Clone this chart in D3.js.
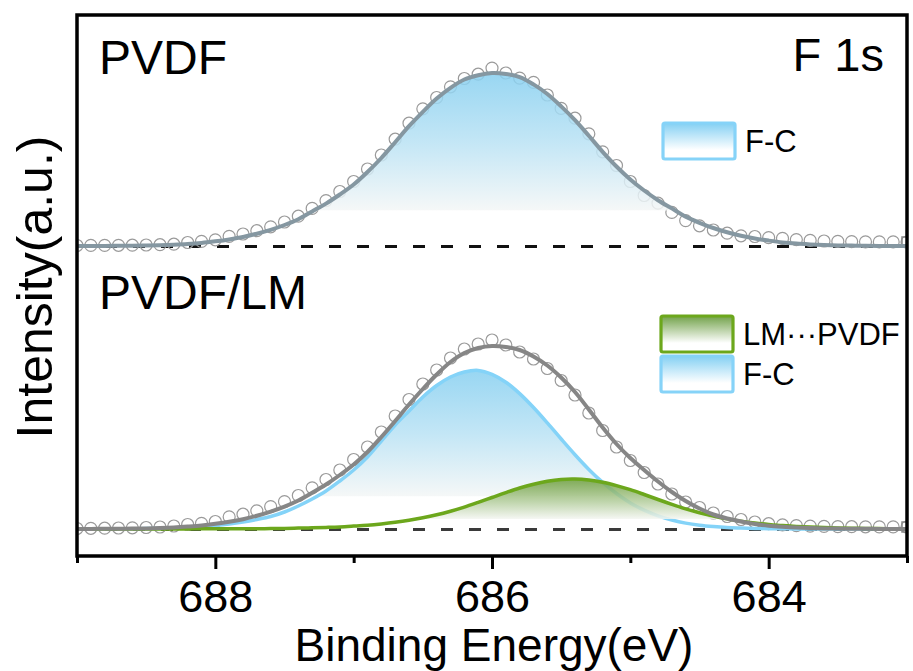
<!DOCTYPE html>
<html>
<head>
<meta charset="utf-8">
<script src="https://cdn.jsdelivr.net/npm/d3@7"></script>
<style>
  body { margin: 0; background: #fff; }
  text { font-family: "Liberation Sans", Arial, sans-serif; fill: #000; }
</style>
</head>
<body>
<div id="chart"></div>
<script>
// binding energy grid (eV), high -> low
const energy = [
  689.0, 688.9, 688.8, 688.7, 688.6, 688.5, 688.4, 688.3, 688.2, 688.1,
  688.0, 687.9, 687.8, 687.7, 687.6, 687.5, 687.4, 687.3, 687.2, 687.1,
  687.0, 686.9, 686.8, 686.7, 686.6, 686.5, 686.4, 686.3, 686.2, 686.1,
  686.0, 685.9, 685.8, 685.7, 685.6, 685.5, 685.4, 685.3, 685.2, 685.1,
  685.0, 684.9, 684.8, 684.7, 684.6, 684.5, 684.4, 684.3, 684.2, 684.1,
  684.0, 683.9, 683.8, 683.7, 683.6, 683.5, 683.4, 683.3, 683.2, 683.1,
  683.0]

// PVDF panel
const pvdfRaw = [
  0.5, 0.6, 0.6, 0.7, 0.8, 1.0, 1.3, 1.8, 3.5, 4.6,
  6.2, 9.6, 12.0, 15.3, 19.2, 24.0, 29.8, 37.6, 45.4, 54.5,
  64.5, 77.0, 91.0, 106.8, 122.8, 137.2, 148.5, 159.2, 167.5, 171.8,
  177.9, 173.0, 167.9, 163.6, 151.0, 137.6, 127.8, 112.2, 94.2, 80.5,
  64.5, 50.5, 42.8, 33.6, 25.4, 20.2, 16.0, 12.8, 10.2, 9.5,
  8.4, 7.6, 6.4, 5.6, 5.0, 4.6, 4.4, 4.2, 4.1, 4.1,
  4.0]
const pvdfFC = [
  0, 0.1, 0.1, 0.2, 0.3, 0.5, 0.8, 1.3, 2.0, 3.1,
  4.7, 6.6, 9.0, 12.3, 16.2, 21.0, 26.8, 34.6, 42.4, 51.5,
  61.5, 74.0, 88.0, 103.8, 119.8, 134.2, 147.5, 158.2, 166.5, 170.8,
  172.9, 172.0, 168.9, 161.6, 152.0, 139.6, 125.8, 110.2, 94.2, 79.5,
  66.5, 55.5, 45.8, 37.6, 29.4, 23.2, 18.0, 13.8, 10.2, 7.5,
  5.4, 3.6, 2.4, 1.6, 1.0, 0.6, 0.4, 0.2, 0.1, 0.1,
  0]

// PVDF/LM panel
const lmRaw = [
  0.5, 0.7, 0.8, 1.0, 1.2, 1.5, 2.0, 3.0, 4.5, 5.6,
  7.5, 12.2, 14.8, 18.2, 22.4, 27.4, 33.5, 41.2, 49.5, 59.0,
  69.5, 82.0, 97.0, 113.0, 129.5, 145.0, 159.0, 171.0, 180.0, 185.0,
  189.0, 184.0, 177.0, 170.0, 160.5, 148.5, 134.0, 116.0, 98.5, 82.0,
  68.5, 56.5, 45.0, 35.0, 27.0, 21.5, 16.0, 12.5, 9.5, 7.0,
  5.3, 4.2, 3.4, 2.9, 2.6, 2.4, 2.3, 2.2, 2.1, 2.1,
  2.0]
const lmEnvelope = [
  0, 0.1, 0.2, 0.3, 0.4, 0.6, 1.0, 1.6, 2.5, 3.6,
  5.2, 7.2, 9.8, 13.2, 17.4, 22.4, 28.5, 36.2, 44.5, 54.0,
  64.5, 77.0, 92.0, 108.0, 124.5, 140.0, 154.5, 167.0, 176.0, 181.0,
  183.0, 182.0, 179.0, 172.5, 163.5, 151.5, 137.0, 119.5, 101.5, 85.0,
  71.0, 59.0, 47.5, 37.0, 28.0, 20.5, 14.5, 10.5, 7.5, 5.0,
  3.3, 2.2, 1.4, 0.9, 0.6, 0.4, 0.3, 0.2, 0.1, 0.1,
  0]
const lmFC = [
  0, 0.1, 0.1, 0.2, 0.3, 0.4, 0.6, 1.0, 1.6, 2.4,
  3.5, 5.0, 7.0, 9.5, 12.5, 17.0, 23.0, 30.0, 38.0, 48.0,
  59.0, 72.0, 88.0, 104.0, 118.0, 132.0, 143.5, 152.0, 157.0, 158.6,
  154.7, 146.8, 135.4, 121.5, 106.1, 90.0, 74.3, 59.6, 46.6, 35.5,
  26.1, 18.8, 13.1, 9.0, 5.9, 3.8, 2.4, 1.4, 0.9, 0.5,
  0.3, 0.2, 0.1, 0.1, 0, 0, 0, 0, 0, 0,
  0]
const lmPVDF = [
  0, 0, 0, 0.1, 0.1, 0.1, 0.1, 0.1, 0.1, 0.2,
  0.2, 0.2, 0.3, 0.3, 0.4, 0.6, 0.9, 1.2, 1.6, 2.1,
  2.9, 3.8, 5.1, 6.7, 8.7, 11.2, 14.2, 17.8, 21.9, 26.6,
  31.5, 36.4, 41.0, 44.8, 47.8, 49.6, 50.0, 49.0, 46.8, 43.4,
  39.3, 34.5, 29.5, 24.7, 20.2, 16.3, 13.0, 10.1, 7.8, 6.0,
  4.6, 3.4, 2.6, 1.9, 1.4, 1.0, 0.8, 0.6, 0.4, 0.3,
  0.2]

const majorTicks = [688, 686, 684]
const minorTicks = [689, 687, 685, 683]

const width = 913, height = 671
const margin = {left: 77, right: 6, top: 15, bottom: 115}
const offsetTop = 283   // vertical stacking offset of the PVDF trace

const svg = d3.select("#chart").append("svg")
  .attr("width", width).attr("height", height)

const x = d3.scaleLinear().domain([689, 683]).range([margin.left, width - margin.right])
const y = d3.scaleLinear().domain([-27, 514]).range([height - margin.bottom, margin.top])

const defs = svg.append("defs")
defs.append("clipPath").attr("id", "clip").append("rect")
  .attr("x", margin.left).attr("y", margin.top)
  .attr("width", width - margin.left - margin.right)
  .attr("height", height - margin.top - margin.bottom)

function gradient(id, stops) {
  const g = defs.append("linearGradient").attr("id", id)
    .attr("x1", 0).attr("y1", 0).attr("x2", 0).attr("y2", 1)
  stops.forEach(s => g.append("stop").attr("offset", s[0])
    .attr("stop-color", s[1]).attr("stop-opacity", s[2] === undefined ? 1 : s[2]))
}
gradient("blueFill", [[0, "#86cff0"], [0.4, "#b9e2f4"], [0.79, "#f3f6f6"], [0.8, "#ffffff", 0], [1, "#ffffff", 0]])
gradient("greenFill", [[0, "#6c9d3a"], [0.45, "#b3cd9c"], [0.8, "#f4f6f2"], [0.81, "#ffffff", 0], [1, "#ffffff", 0]])
gradient("blueLeg", [[0, "#84d0f3"], [0.75, "#ffffff"], [1, "#ffffff"]])
gradient("greenLeg", [[0, "#72a24a"], [0.75, "#ffffff"], [1, "#ffffff"]])

const plot = svg.append("g").attr("clip-path", "url(#clip)")

function series(vals, off) {
  return energy.map((e, i) => ({e: e, v: vals[i] + off, b: off}))
}
const line = d3.line().x(d => x(d.e)).y(d => y(d.v)).curve(d3.curveCatmullRom)
const area = d3.area().x(d => x(d.e)).y0(d => y(d.b)).y1(d => y(d.v)).curve(d3.curveCatmullRom)

function drawRaw(vals, off) {
  const pts = series(vals, off)
  plot.append("g").selectAll("circle").data(pts).join("circle")
    .attr("cx", d => x(d.e)).attr("cy", d => y(d.v)).attr("r", 6)
    .attr("fill", "none").attr("stroke", "#9a9a9a").attr("stroke-width", 1.2)
  const last = pts[pts.length - 1]
  plot.append("rect").attr("x", x(last.e) - 5).attr("y", y(last.v) - 5)
    .attr("width", 10).attr("height", 10)
    .attr("fill", "none").attr("stroke", "#888").attr("stroke-width", 1.5)
}

// dashed baselines
;[[offsetTop, "#111"], [0, "#3a3a3a"]].forEach(([b, c]) => {
  plot.append("line")
    .attr("x1", x(689)).attr("x2", x(683)).attr("y1", y(b) + 0.5).attr("y2", y(b) + 0.5)
    .attr("stroke", c).attr("stroke-width", 3).attr("stroke-dasharray", "12,16")
})

// top panel: PVDF
drawRaw(pvdfRaw, offsetTop)
plot.append("path").datum(series(pvdfFC, offsetTop))
  .attr("d", area).attr("fill", "url(#blueFill)").attr("fill-opacity", 0.85)
plot.append("path").datum(series(pvdfFC, offsetTop))
  .attr("d", line).attr("fill", "none").attr("stroke", "#8597a1").attr("stroke-width", 4)

// bottom panel: PVDF/LM
drawRaw(lmRaw, 0)
plot.append("path").datum(series(lmFC, 0))
  .attr("d", area).attr("fill", "url(#blueFill)").attr("fill-opacity", 0.85)
plot.append("path").datum(series(lmFC, 0))
  .attr("d", line).attr("fill", "none").attr("stroke", "#84d3f8").attr("stroke-width", 3.5)
plot.append("path").datum(series(lmPVDF, 0))
  .attr("d", area).attr("fill", "url(#greenFill)").attr("fill-opacity", 0.85)
plot.append("path").datum(series(lmPVDF, 0))
  .attr("d", line).attr("fill", "none").attr("stroke", "#6ca71c").attr("stroke-width", 3.5)
plot.append("path").datum(series(lmEnvelope, 0))
  .attr("d", line).attr("fill", "none").attr("stroke", "#868686").attr("stroke-width", 4)

// x axis ticks
const axisY = height - margin.bottom
const major = svg.append("g").attr("transform", `translate(0,${axisY})`)
  .call(d3.axisBottom(x).tickValues(majorTicks).tickSize(13).tickPadding(11).tickFormat(d3.format("d")))
const minor = svg.append("g").attr("transform", `translate(0,${axisY})`)
  .call(d3.axisBottom(x).tickValues(minorTicks).tickSize(7).tickFormat(""))
;[major, minor].forEach(g => {
  g.select(".domain").remove()
  g.selectAll(".tick line").attr("stroke", "#000").attr("stroke-width", 3)
})
major.selectAll(".tick text").attr("font-size", 45)
  .style("font-family", '"Liberation Sans", Arial, sans-serif').attr("fill", "#000")

// frame
svg.append("rect")
  .attr("x", margin.left).attr("y", margin.top)
  .attr("width", width - margin.left - margin.right)
  .attr("height", height - margin.top - margin.bottom)
  .attr("fill", "none").attr("stroke", "#000").attr("stroke-width", 3.5)

// axis titles
svg.append("text").attr("x", 494).attr("y", 661).attr("text-anchor", "middle")
  .attr("font-size", 46).text("Binding Energy(eV)")
svg.append("text").attr("transform", "translate(52,287) rotate(-90)")
  .attr("text-anchor", "middle").attr("font-size", 50).text("Intensity(a.u.)")

// panel labels
svg.append("text").attr("x", 99).attr("y", 74).attr("font-size", 48).text("PVDF")
svg.append("text").attr("x", 99).attr("y", 309).attr("font-size", 48).text("PVDF/LM")
svg.append("text").attr("x", 884).attr("y", 71).attr("text-anchor", "end")
  .attr("font-size", 47).text("F 1s")

// legends
function legendItem(lx, ly, fill, stroke, label) {
  svg.append("rect").attr("x", lx).attr("y", ly).attr("width", 72).attr("height", 36)
    .attr("rx", 2).attr("fill", `url(#${fill})`).attr("stroke", stroke).attr("stroke-width", 3.2)
  svg.append("text").attr("x", lx + 82).attr("y", ly + 29).attr("font-size", 31).text(label)
}
legendItem(663, 123, "blueLeg", "#86d3f8", "F-C")
legendItem(661, 316, "greenLeg", "#6ca71c", "LM\u00B7\u00B7\u00B7PVDF")
legendItem(661, 356, "blueLeg", "#86d3f8", "F-C")
</script>
</body>
</html>
